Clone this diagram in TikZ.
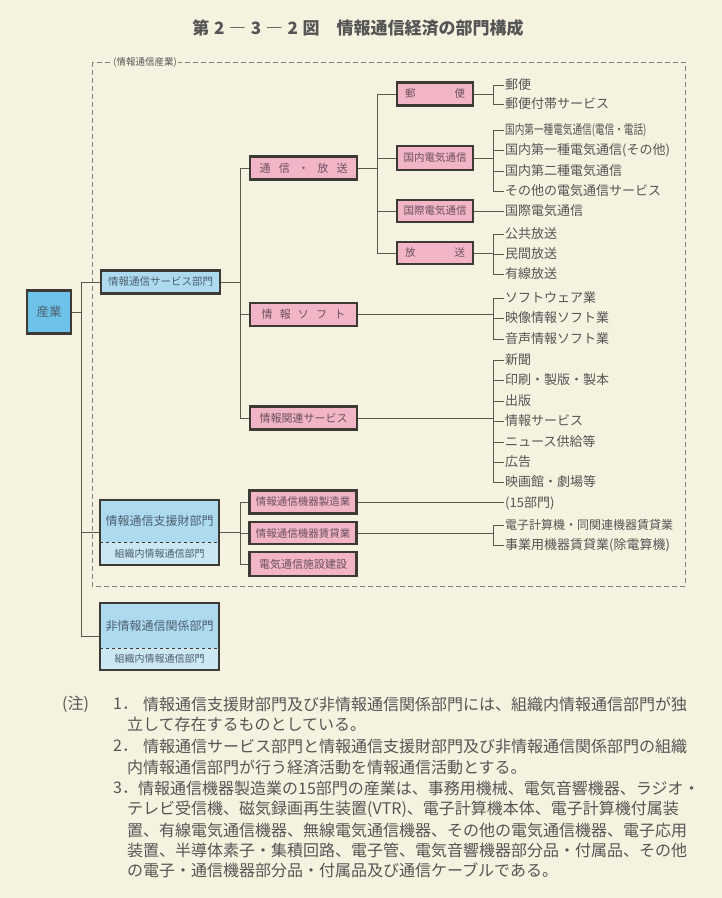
\documentclass[tikz,border=0pt]{standalone}
\usepackage{fontspec}
\setmainfont{Noto Sans CJK JP}
\usepackage{tikz}
\usetikzlibrary{positioning,calc}
\definecolor{paper}{HTML}{F5F2DF}
\definecolor{rose}{HTML}{F2B5C6}
\definecolor{sky}{HTML}{6EC2EA}
\definecolor{lightsky}{HTML}{AEDAF0}
\definecolor{palesky}{HTML}{CBE7F1}
\definecolor{edgec}{HTML}{3D3934}
\definecolor{wirec}{HTML}{5C5850}
\definecolor{mauve}{HTML}{6A5060}
\definecolor{slate}{HTML}{4C6070}
\definecolor{graytext}{HTML}{555555}

\begin{document}
\begin{tikzpicture}[
  x=1pt, y=-1pt,
  sector/.style={
    draw=edgec, fill=rose, line width=2.2pt, inner sep=0pt,
    minimum width=107pt, minimum height=23pt, text=mauve,
    font=\fontsize{11}{12}\selectfont
  },
  branch/.style={sector, minimum width=76pt, font=\fontsize{10.5}{12}\selectfont},
  dept/.style={
    draw=edgec, fill=lightsky, line width=2.2pt, inner sep=0pt,
    minimum width=119pt, minimum height=23pt, text=slate,
    font=\fontsize{10.5}{12}\selectfont
  },
  parttop/.style={fill=lightsky, inner sep=0pt, minimum width=119pt, text=slate,
    font=\fontsize{12}{14}\selectfont},
  partbot/.style={fill=palesky, inner sep=0pt, minimum width=119pt, text=slate,
    font=\fontsize{10}{12}\selectfont},
  boxframe/.style={draw=edgec, line width=2.2pt, inner sep=0pt, minimum width=119pt},
  item/.style={anchor=west, inner sep=1pt, text=graytext, font=\fontsize{13}{15}\selectfont},
  note/.style={anchor=west, inner sep=0pt, text=graytext, font=\fontsize{16}{18}\selectfont},
  link/.style={draw=wirec, line width=1pt},
  sepline/.style={draw=edgec, dashed, line width=0.8pt},
  frame/.style={draw=gray, line width=1pt, dash pattern=on 5pt off 3pt}
]
  \fill[paper] (0,0) rectangle (722,898);

  % title
  \node[text=graytext, font=\fontsize{17}{20}\selectfont\bfseries] (title) at (358,28)
    {第\;2\;―\;3\;―\;2\;図\quad 情報通信経済の部門構成};

  % information industry frame
  \draw[frame] (92,62) rectangle (685,586);
  \node[fill=paper, inner sep=1pt, text=graytext, font=\fontsize{9.5}{11}\selectfont] (frametag) at (145,62) {(情報通信産業)};

  % first levels
  \node[dept, fill=sky, minimum width=44pt, minimum height=43pt, font=\fontsize{12.5}{14}\selectfont] (sangyo) at (49,312) {産業};
  \node[dept] (service) at (160.5,282) {情報通信サービス部門};

  \node[parttop, minimum height=42pt] (shientop) at (159.5,521) {情報通信支援財部門};
  \node[partbot, minimum height=23pt] (shienbot) at (159.5,553.5) {組織内情報通信部門};
  \node[boxframe, minimum height=65pt] (shien) at (159.5,532.5) {};
  \draw[sepline] (shientop.south west) -- (shientop.south east);

  \node[parttop, minimum height=45pt] (hijohotop) at (159.5,625.5) {非情報通信関係部門};
  \node[partbot, minimum height=22pt] (hijohobot) at (159.5,659) {組織内情報通信部門};
  \node[boxframe, minimum height=67pt] (hijoho) at (159.5,636.5) {};
  \draw[sepline] (hijohotop.south west) -- (hijohotop.south east);

  % second level
  \node[sector] (tsushin) at (303.5,168) {\makebox[88pt]{通\hfill 信\hfill ・\hfill 放\hfill 送}};
  \node[sector] (soft) at (303.5,314.5) {\makebox[84pt]{情\hfill 報\hfill ソ\hfill フ\hfill ト}};
  \node[sector] (kanren) at (303.5,418) {情報関連サービス};
  \node[sector, font=\fontsize{10.5}{12}\selectfont] (seizo) at (303,502) {情報通信機器製造業};
  \node[sector, font=\fontsize{10.5}{12}\selectfont, minimum height=22pt] (chintai) at (303,533) {情報通信機器賃貸業};
  \node[sector, minimum height=24pt] (kensetsu) at (303,564) {電気通信施設建設};

  % third level
  \node[branch] (yubin) at (435,94) {\makebox[60pt]{郵\hfill 便}};
  \node[branch, minimum height=24pt] (kokunai) at (435,158) {国内電気通信};
  \node[branch, minimum height=22pt] (kokusai) at (435,211) {国際電気通信};
  \node[branch, minimum height=22pt] (hoso) at (435,253) {\makebox[60pt]{放\hfill 送}};

  % items
  \foreach \n/\yy/\t in {yb1/85/{郵便}, yb2/104/{郵便付帯サービス},
      kn2/150/{国内第一種電気通信(その他)}, kn3/171/{国内第二種電気通信},
      kn4/191/{その他の電気通信サービス}, ks1/211/{国際電気通信},
      hs1/234/{公共放送}, hs2/254/{民間放送}, hs3/274/{有線放送},
      sf1/298/{ソフトウェア業}, sf2/318/{映像情報ソフト業}, sf3/339/{音声情報ソフト業},
      kr1/360/{新聞}, kr2/380/{印刷・製版・製本}, kr3/401/{出版}, kr4/421/{情報サービス},
      kr5/442/{ニュース供給等}, kr6/462/{広告}, kr7/482/{映画館・劇場等},
      sz1/503/{(15部門)}, ct2/545/{事業用機器賃貸業(除電算機)}}
    \node[item] (\n) at (504,\yy) {\t};
  \node[item] (kn1) at (504,130) {\scalebox{0.74}[1]{国内第一種電気通信(電信・電話)}};
  \node[item, font=\fontsize{12}{14}\selectfont] (ct1) at (504,525) {電子計算機・同関連機器賃貸業};

  % connectors
  \coordinate (t1) at (81,0);
  \coordinate (t2) at (240,0);
  \coordinate (t3) at (377,0);
  \coordinate (bx) at (493,0);

  \draw[link] (sangyo.east) -- (t1 |- sangyo.east);
  \draw[link] (service.west) -| (t1 |- hijoho.west) -- (hijoho.west);
  \draw[link] (shien.west) -- (t1 |- shien.west);

  \draw[link] (service.east) -- (t2 |- service.east);
  \draw[link] (tsushin.west) -| (t2 |- kanren.west) -- (kanren.west);
  \draw[link] (soft.west) -- (t2 |- soft.west);
  \draw[link] (shien.east) -- (t2 |- shien.east);
  \draw[link] (seizo.west) -| (t2 |- kensetsu.west) -- (kensetsu.west);
  \draw[link] (chintai.west) -- (t2 |- chintai.west);

  \draw[link] (tsushin.east) -- (t3 |- tsushin.east);
  \draw[link] (yubin.west) -| (t3 |- hoso.west) -- (hoso.west);
  \draw[link] (kokunai.west) -- (t3 |- kokunai.west);
  \draw[link] (kokusai.west) -- (t3 |- kokusai.west);

  \draw[link] (yubin.east) -- (bx |- yubin.east);
  \draw[link] (bx |- yb1.west) -- (bx |- yb2.west);
  \foreach \i in {1,2} \draw[link] (bx |- yb\i.west) -- (yb\i.west);
  \draw[link] (kokunai.east) -- (bx |- kokunai.east);
  \draw[link] (bx |- kn1.west) -- (bx |- kn4.west);
  \foreach \i in {1,...,4} \draw[link] (bx |- kn\i.west) -- (kn\i.west);
  \draw[link] (kokusai.east) -- (kokusai.east -| ks1.west);
  \draw[link] (hoso.east) -- (bx |- hoso.east);
  \draw[link] (bx |- hs1.west) -- (bx |- hs3.west);
  \foreach \i in {1,...,3} \draw[link] (bx |- hs\i.west) -- (hs\i.west);
  \draw[link] (soft.east) -- (bx |- soft.east);
  \draw[link] (bx |- sf1.west) -- (bx |- sf3.west);
  \foreach \i in {1,...,3} \draw[link] (bx |- sf\i.west) -- (sf\i.west);
  \draw[link] (kanren.east) -- (bx |- kanren.east);
  \draw[link] (bx |- kr1.west) -- (bx |- kr7.west);
  \foreach \i in {1,...,7} \draw[link] (bx |- kr\i.west) -- (kr\i.west);
  \draw[link] (seizo.east) -- (seizo.east -| sz1.west);
  \draw[link] (chintai.east) -- (bx |- chintai.east);
  \draw[link] (bx |- ct1.west) -- (bx |- ct2.west);
  \foreach \i in {1,2} \draw[link] (bx |- ct\i.west) -- (ct\i.west);

  % notes
  \node[note] (chu) at (62,704) {(注)};
  \node[note] (num1) at (113,704) {1．};
  \node[note] (nt1) at (143,704) {情報通信支援財部門及び非情報通信関係部門には、組織内情報通信部門が独};
  \node[note] (nt2) at (127,724) {立して存在するものとしている。};
  \node[note] (num2) at (113,746) {2．};
  \node[note] (nt3) at (143,746) {情報通信サービス部門と情報通信支援財部門及び非情報通信関係部門の組織};
  \node[note] (nt4) at (127,767) {内情報通信部門が行う経済活動を情報通信活動とする。};
  \node[note] (num3) at (113,788) {3．};
  \node[note] (nt5) at (138,788) {情報通信機器製造業の15部門の産業は、事務用機械、電気音響機器、ラジオ・};
  \node[note] (nt6) at (127,809) {テレビ受信機、磁気録画再生装置(VTR)、電子計算機本体、電子計算機付属装};
  \node[note] (nt7) at (127,830) {置、有線電気通信機器、無線電気通信機器、その他の電気通信機器、電子応用};
  \node[note] (nt8) at (127,850) {装置、半導体素子・集積回路、電子管、電気音響機器部分品・付属品、その他};
  \node[note] (nt9) at (127,870) {の電子・通信機器部分品・付属品及び通信ケーブルである。};
\end{tikzpicture}
\end{document}
